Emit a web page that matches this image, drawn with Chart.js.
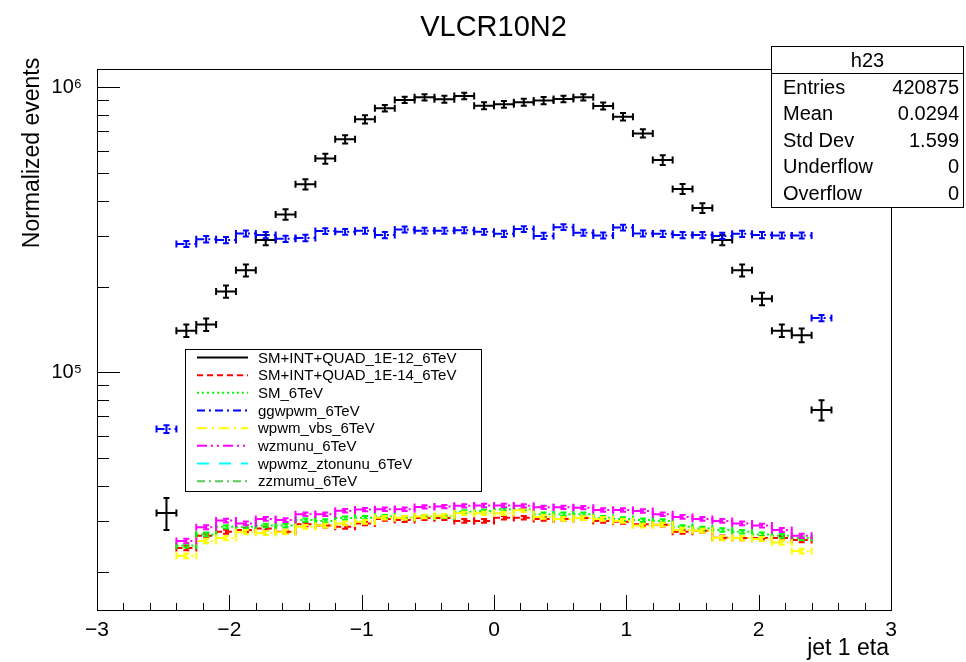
<!DOCTYPE html>
<html>
<head>
<meta charset="utf-8">
<script src="https://cdn.jsdelivr.net/npm/chart.js@4/dist/chart.umd.min.js"></script>
<style>
html,body{margin:0;padding:0;background:#fff;}
#wrap{width:966px;height:662px;position:relative;}
</style>
</head>
<body>
<div id="wrap"><canvas id="c" width="966" height="662"></canvas></div>
<script>
// ---------- DATA ----------
const chartTitle = 'VLCR10N2';
const xTitle = 'jet 1 eta';
const yTitle = 'Normalized events';
const binWidth = 0.15;
const xTickValues = [-3, -2, -1, 0, 1, 2, 3];
const yTickLabels = {100000: '10\u2075', 1000000: '10\u2076'};

const etaBinsWide = [-2.475, -2.325, -2.175, -2.025, -1.875, -1.725, -1.575, -1.425, -1.275, -1.125,
  -0.975, -0.825, -0.675, -0.525, -0.375, -0.225, -0.075, 0.075, 0.225, 0.375, 0.525, 0.675,
  0.825, 0.975, 1.125, 1.275, 1.425, 1.575, 1.725, 1.875, 2.025, 2.175, 2.325, 2.475];
const etaBinsNarrow = [-2.325, -2.175, -2.025, -1.875, -1.725, -1.575, -1.425, -1.275, -1.125,
  -0.975, -0.825, -0.675, -0.525, -0.375, -0.225, -0.075, 0.075, 0.225, 0.375, 0.525, 0.675,
  0.825, 0.975, 1.125, 1.275, 1.425, 1.575, 1.725, 1.875, 2.025, 2.175, 2.325];

const quad12 = [32100, 140000, 147000, 192000, 228000, 291000, 358000, 457000, 562000, 657000,
  772000, 844000, 903000, 922000, 908000, 932000, 862000, 871000, 886000, 898000, 910000, 922000,
  860000, 788000, 689000, 556000, 440000, 377000, 291000, 228000, 181000, 140000, 135000, 73800];
const quad12Err = [4100, 7000, 7300, 9500, 11000, 12000, 15000, 19000, 23000, 22000,
  26000, 22000, 23000, 24000, 26000, 24000, 24000, 24000, 25000, 26000, 24000, 24000,
  24000, 24000, 23000, 22000, 18000, 15000, 12000, 11000, 9000, 7000, 7500, 6000];

const ggwpwm = [63200, 282000, 293000, 291000, 307000, 303000, 294000, 296000, 313000, 311000,
  314000, 303000, 317000, 314000, 314000, 315000, 311000, 306000, 318000, 301000, 323000, 309000,
  302000, 322000, 307000, 306000, 303000, 303000, 301000, 306000, 303000, 302000, 302000, 155000];
const ggwpwmErr = [2000, 7000, 7500, 7500, 7500, 7500, 7500, 7500, 7500, 7500,
  7500, 7500, 7500, 7500, 7500, 7500, 7500, 7500, 7500, 7500, 7500, 7500,
  7500, 7500, 7500, 7500, 7500, 7500, 7500, 7500, 7500, 7500, 7500, 3800];

const quad14 = [24200, 26700, 27600, 28000, 28300, 27600, 29300, 29000, 28700, 29500, 30600,
  30300, 30800, 30800, 30100, 30100, 30900, 30900, 30600, 30600, 30800, 30100, 29900, 29300,
  29200, 27600, 27800, 26300, 26200, 26200, 26200, 25800];
const sm = [24700, 27000, 28700, 28700, 29000, 29000, 30300, 30100, 30800, 30900, 31200,
  30900, 31200, 31200, 32400, 32600, 33100, 33100, 31800, 31800, 31800, 30900, 30600, 30300,
  30100, 28700, 28300, 28000, 27600, 27000, 26700, 26200];
const wpwmVbs = [22700, 25600, 26200, 27500, 27300, 27500, 28700, 29000, 29500, 29900, 30900,
  30900, 31200, 31400, 32000, 32000, 32000, 32800, 31100, 30600, 30800, 30600, 30100, 29000,
  29200, 28000, 27800, 26200, 26200, 26000, 25300, 23600];
const wzmunu = [25600, 28600, 30200, 29500, 30600, 30300, 31800, 31800, 32700, 33000, 33100,
  33100, 33700, 33800, 34000, 34100, 34100, 34000, 33600, 33600, 33500, 32900, 32900, 32600,
  31800, 31100, 30600, 30100, 29500, 29000, 28000, 26700];
const wpwmz = [];
const zzmumu = [];
const smallErr = [450, 450, 400, 450, 450, 450, 450, 450];

const seriesNames = ['SM+INT+QUAD_1E-12_6TeV', 'SM+INT+QUAD_1E-14_6TeV', 'SM_6TeV', 'ggwpwm_6TeV',
  'wpwm_vbs_6TeV', 'wzmunu_6TeV', 'wpwmz_ztonunu_6TeV', 'zzmumu_6TeV'];

const statRows = [['Entries', '420875'], ['Mean', '0.0294'], ['Std Dev', '1.599'], ['Underflow', '0'], ['Overflow', '0']];
const statTitle = 'h23';

// ---------- BUILD ----------
function pts(xs, ys, errs, scalarErr) {
  return ys.map((v, i) => ({x: xs[i], y: v, e: errs ? errs[i] : scalarErr}));
}
const styles = [
  {c: '#000000', d: []},
  {c: '#ff0000', d: [6, 4]},
  {c: '#00ff00', d: [2, 3]},
  {c: '#0000ff', d: [8, 4, 2, 4]},
  {c: '#ffff00', d: [10, 5, 2, 5]},
  {c: '#ff00ff', d: [10, 4, 2, 4, 2, 4]},
  {c: '#00ffff', d: [12, 10]},
  {c: '#5ac85a', d: [8, 4, 2, 4]}
];
const seriesData = [
  pts(etaBinsWide, quad12, quad12Err),
  pts(etaBinsNarrow, quad14, null, smallErr[1]),
  pts(etaBinsNarrow, sm, null, smallErr[2]),
  pts(etaBinsWide, ggwpwm, ggwpwmErr),
  pts(etaBinsNarrow, wpwmVbs, null, smallErr[4]),
  pts(etaBinsNarrow, wzmunu, null, smallErr[5]),
  pts(etaBinsNarrow, wpwmz, null, smallErr[6]),
  pts(etaBinsNarrow, zzmumu, null, smallErr[7])
];
const datasets = seriesNames.map((n, i) => ({
  label: n,
  data: seriesData[i],
  borderColor: styles[i].c,
  backgroundColor: styles[i].c,
  borderDash: styles[i].d,
  borderWidth: 2,
  pointRadius: 0,
  showLine: false
}));

const FONT = '"Liberation Sans", Arial, Helvetica, sans-serif';

const errorBars = {
  id: 'errorBars',
  afterDatasetsDraw(chart) {
    const {ctx, chartArea: a, scales: {x, y}} = chart;
    ctx.save();
    ctx.beginPath();
    ctx.rect(a.left, a.top, a.right - a.left, a.bottom - a.top);
    ctx.clip();
    const cap = 3.5;
    chart.data.datasets.forEach((ds) => {
      ctx.strokeStyle = ds.borderColor;
      ctx.lineWidth = ds.borderWidth;
      ctx.setLineDash(ds.borderDash || []);
      ds.data.forEach(p => {
        const xl = x.getPixelForValue(p.x - binWidth / 2);
        const xr = x.getPixelForValue(p.x + binWidth / 2);
        const xc = x.getPixelForValue(p.x);
        const yc = y.getPixelForValue(p.y);
        const yt = y.getPixelForValue(p.y + p.e);
        const yb = y.getPixelForValue(p.y - p.e);
        ctx.beginPath();
        ctx.moveTo(xl, yc); ctx.lineTo(xr, yc);
        ctx.moveTo(xc, yt); ctx.lineTo(xc, yb);
        ctx.stroke();
        ctx.setLineDash([]);
        ctx.beginPath();
        ctx.moveTo(xl, yc - cap); ctx.lineTo(xl, yc + cap);
        ctx.moveTo(xr, yc - cap); ctx.lineTo(xr, yc + cap);
        ctx.moveTo(xc - 3, yt); ctx.lineTo(xc + 3, yt);
        ctx.moveTo(xc - 3, yb); ctx.lineTo(xc + 3, yb);
        ctx.stroke();
        ctx.setLineDash(ds.borderDash || []);
      });
    });
    ctx.restore();
  }
};

const decorations = {
  id: 'decorations',
  afterDraw(chart) {
    const {ctx, chartArea: a, scales: {x, y}} = chart;
    ctx.save();
    ctx.setLineDash([]);
    // frame
    ctx.strokeStyle = '#000';
    ctx.lineWidth = 1;
    ctx.strokeRect(Math.round(a.left) + 0.5, Math.round(a.top) + 0.5, Math.round(a.right - a.left), Math.round(a.bottom - a.top));
    // x ticks (inside)
    ctx.beginPath();
    for (let k = -30; k <= 30; k += 2) {
      const v = k / 10;
      const px = Math.round(x.getPixelForValue(v)) + 0.5;
      const len = (k % 10 === 0) ? 15 : 7;
      ctx.moveTo(px, a.bottom); ctx.lineTo(px, a.bottom - len);
    }
    // y ticks (inside)
    y.ticks.forEach(t => {
      const py = Math.round(y.getPixelForValue(t.value)) + 0.5;
      const lg = Math.log10(t.value);
      const major = Math.abs(lg - Math.round(lg)) < 1e-9;
      ctx.moveTo(a.left, py); ctx.lineTo(a.left + (major ? 23 : 12), py);
    });
    ctx.stroke();
    // title
    ctx.fillStyle = '#000';
    ctx.font = '29px ' + FONT;
    ctx.textAlign = 'center';
    ctx.textBaseline = 'middle';
    ctx.fillText(chartTitle, 493.5, 28);
    // axis titles
    ctx.font = '23px ' + FONT;
    ctx.textAlign = 'right';
    ctx.fillText(xTitle, 889, 649);
    ctx.save();
    ctx.translate(33, 153);
    ctx.rotate(-Math.PI / 2);
    ctx.textAlign = 'center';
    ctx.fillText(yTitle, 0, 0);
    ctx.restore();
    // stats box
    const sx = 771.5, sy = 46.5, sw = 192, sh = 161;
    ctx.fillStyle = '#fff';
    ctx.fillRect(sx, sy, sw, sh);
    ctx.strokeRect(sx, sy, sw, sh);
    ctx.beginPath(); ctx.moveTo(sx, 73.5); ctx.lineTo(sx + sw, 73.5); ctx.stroke();
    ctx.fillStyle = '#000';
    ctx.font = '20px ' + FONT;
    ctx.textAlign = 'center';
    ctx.fillText(statTitle, sx + sw / 2, 61);
    statRows.forEach((r, i) => {
      const ry = 88.5 + i * 26.4;
      ctx.textAlign = 'left';
      ctx.fillText(r[0], 783, ry);
      ctx.textAlign = 'right';
      ctx.fillText(r[1], 959, ry);
    });
    // legend box
    const lx = 185.5, ly = 349.5, lw = 296, lh = 142;
    ctx.fillStyle = '#fff';
    ctx.fillRect(lx, ly, lw, lh);
    ctx.strokeStyle = '#000';
    ctx.lineWidth = 1;
    ctx.strokeRect(lx, ly, lw, lh);
    ctx.font = '15px ' + FONT;
    ctx.textAlign = 'left';
    chart.data.datasets.forEach((ds, i) => {
      const ry = 357.5 + i * 17.67;
      ctx.strokeStyle = ds.borderColor;
      ctx.lineWidth = ds.borderWidth;
      ctx.setLineDash(ds.borderDash);
      ctx.beginPath(); ctx.moveTo(197, ry); ctx.lineTo(248, ry); ctx.stroke();
      ctx.setLineDash([]);
      ctx.fillStyle = '#000';
      ctx.fillText(ds.label, 258, ry + 1);
    });
    ctx.restore();
  }
};

const yTickValues = [];
[10000, 100000, 1000000].forEach(d => { for (let m = 1; m <= 9; m++) yTickValues.push(m * d); });

new Chart(document.getElementById('c'), {
  type: 'scatter',
  data: {datasets},
  options: {
    responsive: false,
    animation: false,
    devicePixelRatio: 1,
    layout: {padding: {top: 69, right: 75, left: 0, bottom: 0}},
    plugins: {legend: {display: false}, title: {display: false}, tooltip: {enabled: false}},
    scales: {
      x: {
        type: 'linear', min: -3, max: 3,
        afterBuildTicks: s => { s.ticks = xTickValues.map(v => ({value: v})); },
        afterFit: s => { s.height = 52; },
        grid: {display: false}, border: {display: false},
        ticks: {
          autoSkip: false, maxRotation: 0, padding: 0, color: '#000',
          font: {family: FONT, size: 21},
          callback: v => (v < 0 ? '\u2212' + Math.abs(v) : String(v))
        }
      },
      y: {
        type: 'logarithmic', min: 14660, max: 1159000,
        afterBuildTicks: s => { s.ticks = yTickValues.filter(v => v >= 14660 && v <= 1159000).map(v => ({value: v})); },
        afterFit: s => { s.width = 97; },
        grid: {display: false}, border: {display: false},
        ticks: {
          autoSkip: false, padding: 7, color: '#000',
          font: {family: FONT, size: 20},
          callback: v => yTickLabels[Math.round(v)] || ''
        }
      }
    }
  },
  plugins: [errorBars, decorations]
});
</script>
</body>
</html>
